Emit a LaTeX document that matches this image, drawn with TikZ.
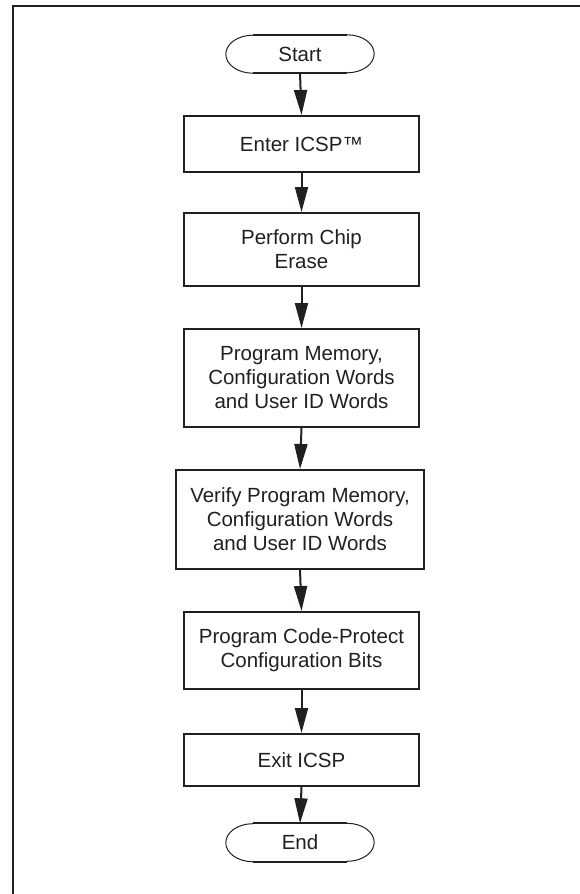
\documentclass[tikz,border=0pt]{standalone}
\usepackage{fontspec}
\setmainfont{Liberation Sans}
\usetikzlibrary{arrows.meta}
\definecolor{ink}{HTML}{231F20}
\begin{document}
\begin{tikzpicture}[x=1pt,y=1pt,
  lbl/.style={text=ink, align=center, font=\fontsize{20.5}{24}\selectfont},
  stepbox/.style={lbl, draw=ink, line width=2pt, inner sep=0pt, minimum width=235pt},
  termbox/.style={lbl, draw=none, inner sep=0pt, minimum width=94pt, minimum height=38pt},
  flow/.style={draw=ink, line width=2pt, -{Triangle[length=25pt,width=13pt]}},
  endcap/.style={draw=ink, line width=1pt},
  rim/.style={draw=ink, line width=2pt},
]
\useasboundingbox (0,0) rectangle (580,-894);
% open page frame: left and top edges
\draw[ink, line width=2pt] (13,-894) -- (13,-6) -- (580,-6);

% terminals
\node[termbox] (start) at (300,-54) {Start};
\node[termbox] (end) at (300,-842.5) {End};
\foreach \t in {start,end}{
  \draw[endcap] (\t.north east) arc[start angle=90, end angle=-90, x radius=27pt, y radius=19pt];
  \draw[endcap] (\t.south west) arc[start angle=270, end angle=90, x radius=27pt, y radius=19pt];
  \draw[rim] (\t.north west) -- (\t.north east);
  \draw[rim] (\t.south west) -- (\t.south east);
}

% process steps
\node[stepbox, minimum height=56pt] (enter) at (301.5,-144) {Enter ICSP™};
\node[stepbox, minimum height=73pt] (erase) at (301.5,-249.5) {Perform Chip\\Erase};
\node[stepbox, minimum height=98pt] (prog) at (301.5,-378) {Program Memory,\\Configuration Words\\and User ID Words};
\node[stepbox, minimum width=248pt, minimum height=99pt] (verify) at (300,-519.5) {Verify Program Memory,\\Configuration Words\\and User ID Words};
\node[stepbox, minimum height=77pt] (protect) at (301.5,-650.5) {Program Code-Protect\\Configuration Bits};
\node[stepbox, minimum height=52pt] (exit) at (301.5,-760) {Exit ICSP};

% connectors
\draw[flow] (start.south) -- (enter.north);
\draw[flow] (enter.south) -- (erase.north);
\draw[flow] (erase.south) -- (prog.north);
\draw[flow] (prog.south) -- (verify.north);
\draw[flow] (verify.south) -- (protect.north);
\draw[flow] (protect.south) -- (exit.north);
\draw[flow] (exit.south) -- (end.north);
\end{tikzpicture}
\end{document}
